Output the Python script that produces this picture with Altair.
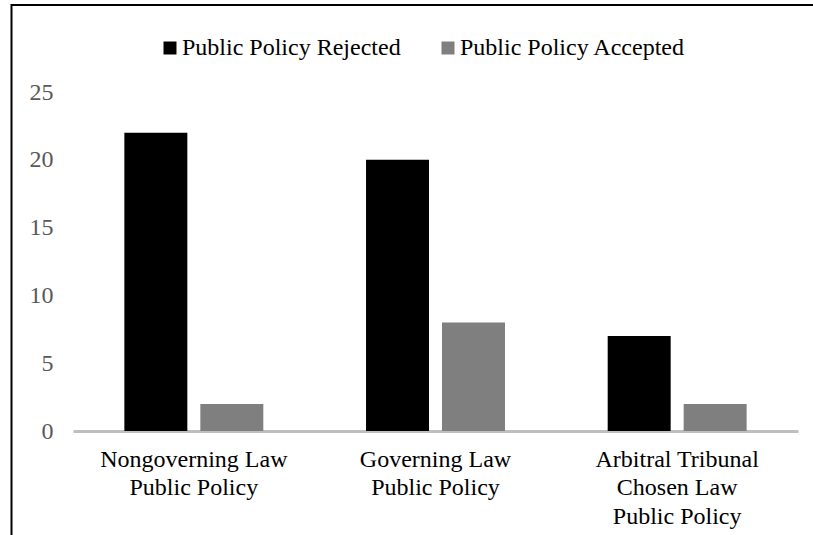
import altair as alt
import pandas as pd

categories = [
    "Nongoverning Law\nPublic Policy",
    "Governing Law\nPublic Policy",
    "Arbitral Tribunal\nChosen Law\nPublic Policy",
]
series = ["Public Policy Rejected", "Public Policy Accepted"]
rejected = [22, 20, 7]
accepted = [2, 8, 2]
y_ticks = [0, 5, 10, 15, 20, 25]
colors = ["#000000", "#7f7f7f"]

rows = []
for c, r, a in zip(categories, rejected, accepted):
    rows.append({"category": c, "series": series[0], "value": r})
    rows.append({"category": c, "series": series[1], "value": a})
df = pd.DataFrame(rows)

font = "Liberation Serif"

bars = alt.Chart(df).mark_bar().encode(
    x=alt.X(
        "category:N",
        sort=categories,
        scale=alt.Scale(paddingInner=0, paddingOuter=0),
        axis=alt.Axis(
            title=None,
            labelAngle=0,
            labelExpr="split(datum.label, '\\n')",
            labelFont=font,
            labelFontSize=24,
            labelColor="#000000",
            labelLineHeight=28.5,
            labelPadding=16,
            ticks=False,
            tickSize=0,
            domainColor="#bfbfbf",
            domainWidth=3,
            labelLimit=400,
        ),
    ),
    xOffset=alt.XOffset(
        "series:N", sort=series, scale=alt.Scale(paddingInner=0.171, paddingOuter=0.676)
    ),
    y=alt.Y(
        "value:Q",
        scale=alt.Scale(domain=[0, 25]),
        axis=alt.Axis(
            title=None,
            values=y_ticks,
            grid=False,
            domain=False,
            ticks=False,
            tickSize=0,
            labelFont=font,
            labelFontSize=24,
            labelColor="#595959",
            labelPadding=20,
        ),
    ),
    color=alt.Color(
        "series:N",
        sort=series,
        scale=alt.Scale(domain=series, range=colors),
        legend=alt.Legend(
            title=None,
            orient="none",
            direction="horizontal",
            legendX=85,
            legendY=-56,
            symbolType="square",
            symbolSize=169,
            symbolStrokeWidth=0,
            labelFont=font,
            labelFontSize=24,
            labelColor="#000000",
            labelOffset=0,
            columnPadding=35,
            labelLimit=400,
            padding=0,
        ),
    ),
)

frame = alt.Chart(pd.DataFrame({"f": [0]})).mark_rect(
    fill="transparent", stroke="#000000", strokeWidth=2
).encode(
    x=alt.value(-61.5), x2=alt.value(900), y=alt.value(-87), y2=alt.value(700)
)

chart = alt.layer(bars, frame).properties(
    width=725,
    height=339,
    padding={"left": 73, "top": 92, "right": 15, "bottom": 104},
    autosize="none",
    background="#ffffff",
).configure_view(stroke=None)

chart.save("out.html", embed_options={"renderer": "svg", "actions": False})
